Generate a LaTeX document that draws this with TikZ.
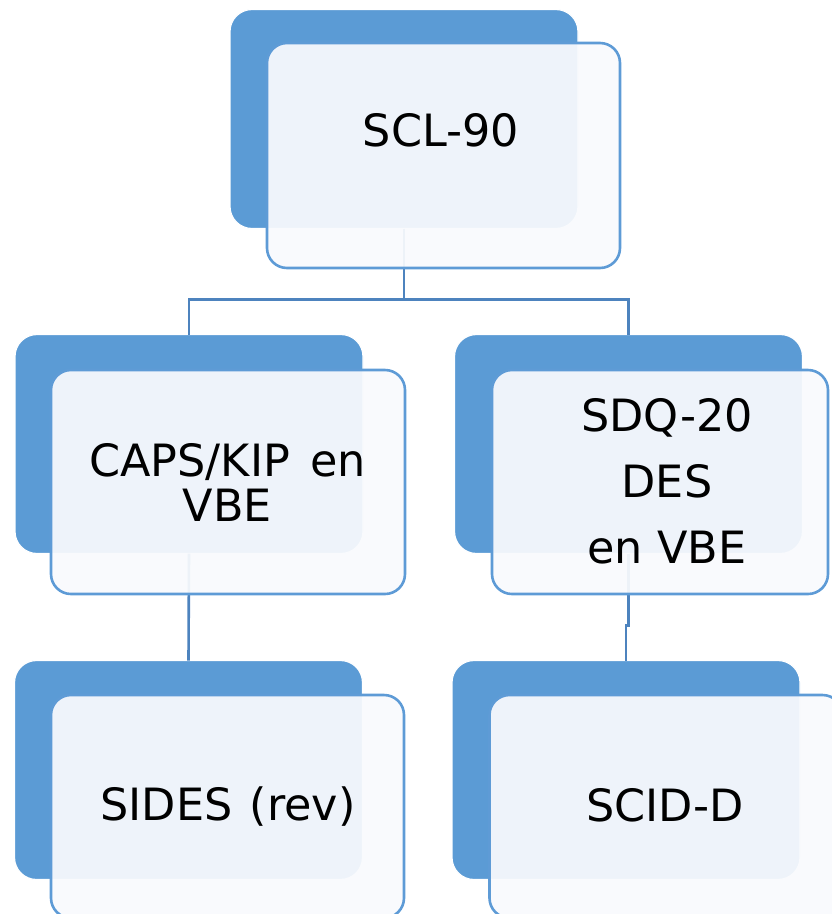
\documentclass[tikz,border=0pt]{standalone}
\usepackage{fontspec}
\setmainfont{DejaVu Sans}
\definecolor{backblue}{HTML}{5B9BD5}
\definecolor{edgeblue}{HTML}{5E9BD6}
\definecolor{connblue}{HTML}{4D83BE}
\definecolor{frontfill}{HTML}{F9FAFD}
\begin{document}
\begin{tikzpicture}[x=1pt,y=-1pt,
  backbox/.style={draw=white, line width=1.2pt, fill=backblue, rounded corners=22pt,
    minimum width=348pt, minimum height=219pt, inner sep=0pt, outer sep=0pt},
  frontbox/.style={draw=edgeblue, line width=2.6pt, fill=frontfill, fill opacity=0.935,
    rounded corners=20pt, minimum width=354pt, minimum height=224pt, inner sep=0pt, outer sep=0pt},
  conn/.style={draw=connblue, line width=2.6pt},
  lbl/.style={font=\fontsize{44.5}{45}\selectfont, text=black, align=center, inner sep=0pt}]
\useasboundingbox (0,0) rectangle (831,914);
% back boxes
\node[backbox] (b1) at (404,119) {};
\node[backbox] (b2) at (189,444) {};
\node[backbox] (b3) at (628.5,444) {};
\node[backbox] (b4) at (188.5,770) {};
\node[backbox] (b5) at (626,770) {};
% connectors
\draw[conn] (b1.south) -- ++(0,71) -| (b2.north);
\draw[conn] (b1.south) -- ++(0,71) -| (b3.north);
\draw[conn] (b2.south) -- (b4.north);
\draw[conn] (b3.south) -- ++(0,72) -| (b5.north);
% front boxes
\node[frontbox, minimum width=353pt, minimum height=225pt] (f1) at (443.5,155.5) {};
\node[frontbox] (f2) at (228,482) {};
\node[frontbox, minimum width=336pt] (f3) at (660,482) {};
\node[frontbox, minimum width=353pt, minimum height=223pt] (f4) at (227.5,806.5) {};
\node[frontbox, minimum width=353pt, minimum height=223pt] (f5) at (666,806.5) {};
% labels
\node[lbl] (t1) at (441,130) {SCL-90};
\node[lbl] (t2) at (227.5,482) {CAPS/KIP\hspace{6pt} en\\VBE};
\node[lbl, font=\fontsize{44.5}{66}\selectfont] (t3) at (667,481) {SDQ-20\\DES\\en VBE};
\node[lbl] (t4) at (228,807) {SIDES\hspace{3pt} (rev)};
\node[lbl] (t5) at (665,805) {SCID-D};
\end{tikzpicture}
\end{document}
